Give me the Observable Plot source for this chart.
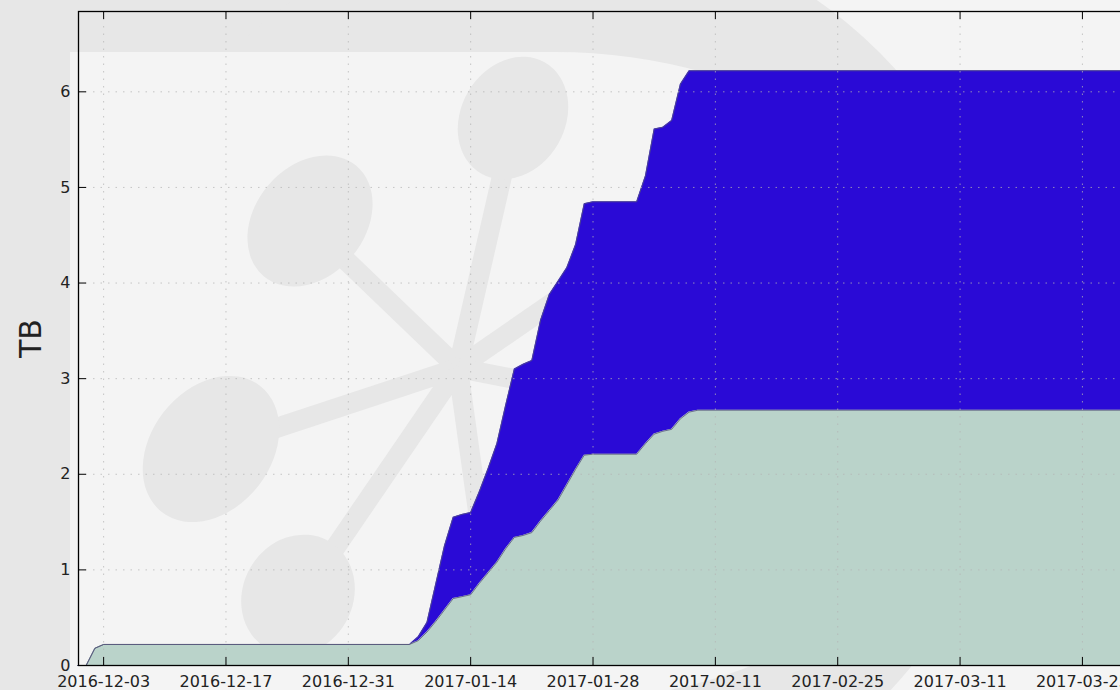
<!DOCTYPE html>
<html><head><meta charset="utf-8">
<script src="https://cdn.jsdelivr.net/npm/d3@7"></script>
<script src="https://cdn.jsdelivr.net/npm/@observablehq/plot@0.6"></script>
<style>
html,body{margin:0;padding:0;width:1120px;height:690px;overflow:hidden;background:#e7e7e7;}
#wrap{position:relative;width:1120px;height:690px;overflow:hidden;}
#bg{position:absolute;left:0;top:0;}
#chart{position:absolute;left:0;top:0;}
</style></head><body>
<div id="wrap">
<svg id="bg" width="1120" height="690" xmlns="http://www.w3.org/2000/svg">
  <rect x="0" y="0" width="1120" height="690" fill="#e7e7e7"/>
  <rect x="555" y="0" width="565" height="690" fill="#f4f4f4"/>
  <circle cx="555" cy="377" r="459" fill="#e7e7e7"/>
  <path d="M70,52 H555 A427,325 0 0 1 670,690 H70 Z" fill="#f4f4f4"/>
  <g stroke="#e7e7e7" stroke-width="20" fill="none">
    <line x1="458" y1="368" x2="508" y2="150"/>
    <line x1="458" y1="368" x2="330" y2="245"/>
    <line x1="458" y1="368" x2="240" y2="440"/>
    <line x1="458" y1="368" x2="320" y2="570"/>
    <line x1="458" y1="368" x2="600" y2="270"/>
    <line x1="458" y1="368" x2="545" y2="385"/>
    <line x1="458" y1="368" x2="482" y2="540"/>
  </g>
  <g fill="#e7e7e7">
    <ellipse cx="513" cy="118" rx="52" ry="64" transform="rotate(30 513 118)"/>
    <ellipse cx="310" cy="221" rx="55" ry="72" transform="rotate(40 310 221)"/>
    <ellipse cx="211" cy="449" rx="60" ry="80" transform="rotate(38 211 449)"/>
    <ellipse cx="298" cy="595" rx="55" ry="62" transform="rotate(30 298 595)"/>
  </g>
</svg>
<div id="chart"></div>
</div>
<script>
// Data (TB)
const dates = [
  "2016-11-30","2016-12-01","2016-12-02","2016-12-03","2017-01-07","2017-01-08",
  "2017-01-09","2017-01-10","2017-01-11","2017-01-12","2017-01-13","2017-01-14",
  "2017-01-15","2017-01-16","2017-01-17","2017-01-18","2017-01-19","2017-01-20",
  "2017-01-21","2017-01-22","2017-01-23","2017-01-24","2017-01-25","2017-01-26",
  "2017-01-27","2017-01-28","2017-02-02","2017-02-03","2017-02-04","2017-02-05",
  "2017-02-06","2017-02-07","2017-02-08","2017-02-09","2017-03-31"
];
const lowerTB = [
  0, 0, 0.18, 0.22, 0.22, 0.26,
  0.35, 0.46, 0.58, 0.70, 0.72, 0.74,
  0.86, 0.97, 1.08, 1.22, 1.34, 1.36,
  1.39, 1.51, 1.62, 1.73, 1.89, 2.05,
  2.20, 2.21, 2.21, 2.32, 2.42, 2.45,
  2.47, 2.58, 2.65, 2.67, 2.67
];
const totalTB = [
  0, 0, 0.18, 0.22, 0.22, 0.30,
  0.45, 0.85, 1.25, 1.55, 1.58, 1.60,
  1.82, 2.06, 2.32, 2.72, 3.10, 3.15,
  3.19, 3.61, 3.88, 4.02, 4.16, 4.40,
  4.83, 4.85, 4.85, 5.12, 5.61, 5.63,
  5.70, 6.08, 6.22, 6.22, 6.22
];
const xTickLabels = ["2016-12-03","2016-12-17","2016-12-31","2017-01-14","2017-01-28",
  "2017-02-11","2017-02-25","2017-03-11","2017-03-25"];
const yTicks = [0,1,2,3,4,5,6];
const xDomain = ["2016-11-30T03:00:00Z","2017-04-01T02:30:00Z"];
const yMax = 6.84;

const parse = d3.utcParse("%Y-%m-%d");
const rows = dates.map((d,i)=>({date: parse(d), low: lowerTB[i], high: totalTB[i]}));
const xt = xTickLabels.map(parse);

const W = 1150, H = 690, ML = 78, MR = 6, MT = 11, MB = 25;
const frameW = W - ML - MR, frameH = H - MT - MB, tickLen = 8;
const gridStyle = {stroke: "#b4b4b4", strokeOpacity: 0.75, strokeDasharray: "1.5,6", strokeWidth: 1};

const plot = Plot.plot({
  width: W, height: H,
  marginLeft: ML, marginRight: MR, marginTop: MT, marginBottom: MB,
  style: {background: "transparent", maxWidth: "none", overflow: "visible",
          fontFamily: "'DejaVu Sans', sans-serif", fontSize: "16px", color: "#222"},
  x: {type: "utc", domain: xDomain.map(d => new Date(d))},
  y: {domain: [0, yMax]},
  marks: [
    Plot.area(rows, {x1: "date", y1: 0, y2: "low", fill: "#bad3ca"}),
    Plot.area(rows, {x1: "date", y1: "low", y2: "high", fill: "#2a0ad6"}),
    Plot.line(rows, {x: "date", y: "low", stroke: "#55557a", strokeWidth: 1, strokeOpacity: 0.8}),
    Plot.line(rows, {x: "date", y: "high", stroke: "#55557a", strokeWidth: 1, strokeOpacity: 0.8}),
    Plot.ruleX(xt, {x: d => d, ...gridStyle}),
    Plot.ruleY(yTicks, {y: d => d, ...gridStyle}),
    Plot.tickX(xt, {x: d => d, insetTop: frameH - tickLen, stroke: "#000", strokeWidth: 1}),
    Plot.tickX(xt, {x: d => d, insetBottom: frameH - tickLen, stroke: "#000", strokeWidth: 1}),
    Plot.tickY(yTicks, {y: d => d, insetRight: frameW - tickLen, stroke: "#000", strokeWidth: 1}),
    Plot.frame({stroke: "#000", strokeWidth: 1.3}),
    Plot.axisX(xt, {tickSize: 0, tickPadding: 10, tickFormat: d3.utcFormat("%Y-%m-%d"),
                    fontSize: 16, fill: "#222", label: null}),
    Plot.axisY(yTicks, {tickSize: 0, tickPadding: 8, tickFormat: d => String(d),
                        fontSize: 16, fill: "#222", label: null}),
    Plot.text(["TB"], {frameAnchor: "left", dx: -47, rotate: -90, text: d => d,
                       fontSize: 30, fill: "#222", textAnchor: "middle", lineAnchor: "middle"})
  ]
});
document.getElementById("chart").appendChild(plot);
</script>
</body></html>
